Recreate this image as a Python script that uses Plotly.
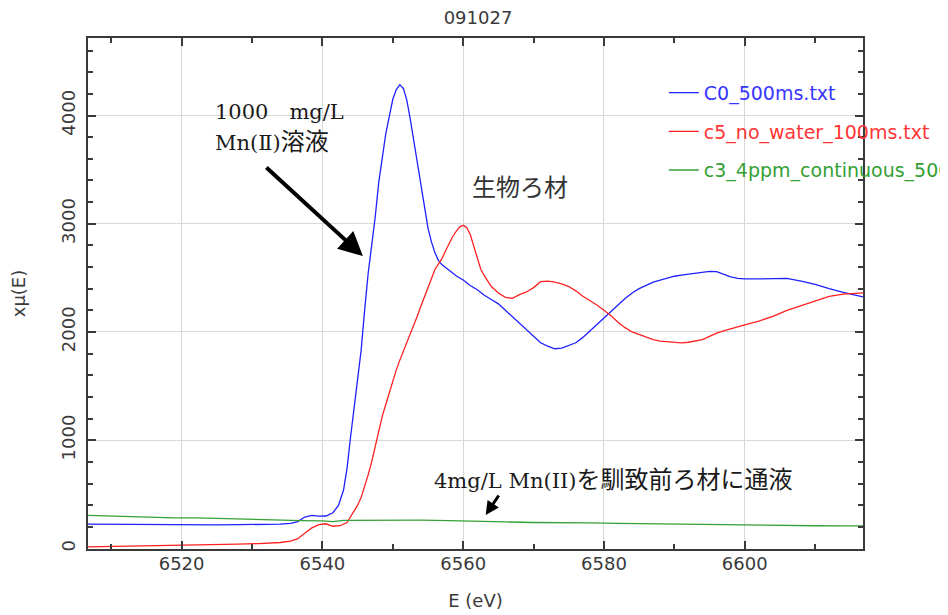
import plotly.graph_objects as go

# ---------------- data ----------------
E_c0 = [6506.7, 6510, 6513, 6516, 6519, 6522, 6525, 6528, 6531, 6534, 6535.5, 6536.5,
        6537.5, 6538.5, 6539.5, 6540.5, 6541.5, 6542.3, 6543, 6543.5, 6544, 6544.5,
        6545, 6545.5, 6546, 6546.5, 6547, 6547.5, 6548, 6548.5, 6549, 6549.5, 6550,
        6550.5, 6551, 6551.5, 6552, 6552.5, 6553, 6553.5, 6554, 6554.5, 6555, 6555.5,
        6556, 6556.5, 6557, 6558, 6559, 6560, 6561, 6562, 6563, 6564, 6565, 6566,
        6567, 6568, 6569, 6570, 6571, 6572, 6573, 6574, 6575, 6576, 6577, 6578, 6579,
        6580, 6581, 6582, 6583, 6584, 6585, 6586, 6587, 6588, 6589, 6590, 6591, 6592,
        6593, 6594, 6595, 6596, 6597, 6598, 6599, 6600, 6602, 6604, 6606, 6608, 6610,
        6612, 6614, 6616.8]
mu_c0 = [225, 224, 220, 218, 215, 216, 218, 220, 222, 224, 232, 248,
         290, 305, 298, 300, 330, 400, 540, 740, 1030, 1300,
         1560, 1830, 2200, 2540, 2800, 3060, 3380, 3620, 3830, 3990, 4150,
         4240, 4285, 4250, 4140, 3960, 3760, 3560, 3340, 3140, 2960, 2830,
         2730, 2660, 2620, 2570, 2520, 2480, 2430, 2390, 2340, 2300, 2260, 2200,
         2140, 2080, 2020, 1960, 1900, 1870, 1845, 1850, 1875, 1900, 1950, 2010, 2075,
         2130, 2190, 2250, 2310, 2360, 2400, 2430, 2460, 2480, 2500, 2515, 2525, 2535,
         2545, 2555, 2560, 2558, 2535, 2510, 2495, 2490, 2490, 2495, 2495, 2470, 2440,
         2400, 2365, 2325]

E_c5 = [6506.7, 6510, 6513, 6516, 6519, 6522, 6525, 6528, 6531, 6534, 6535.5, 6536.5,
        6537.5, 6538.5, 6539.5, 6540.5, 6541.5, 6542.5, 6543.5, 6544, 6544.5, 6545,
        6545.5, 6546, 6546.5, 6547, 6547.5, 6548, 6548.5, 6549, 6549.5, 6550, 6550.5,
        6551, 6551.5, 6552, 6552.5, 6553, 6553.5, 6554, 6554.5, 6555, 6555.5, 6556,
        6556.5, 6557, 6557.5, 6558, 6558.5, 6559, 6559.5, 6560, 6560.5, 6561, 6561.5,
        6562, 6562.5, 6563, 6563.5, 6564, 6565, 6566, 6567, 6568, 6569, 6570, 6571,
        6572, 6573, 6574, 6575, 6576, 6577, 6578, 6579, 6580, 6581, 6582, 6583, 6584,
        6585, 6586, 6587, 6588, 6589, 6590, 6591, 6592, 6593, 6594, 6595, 6596, 6597,
        6598, 6599, 6600, 6602, 6604, 6606, 6608, 6610, 6612, 6614, 6616.8]
mu_c5 = [15, 18, 22, 25, 28, 32, 35, 40, 45, 55, 68, 90,
         140, 190, 220, 228, 205, 210, 240, 290, 350, 400,
         470, 570, 680, 800, 950, 1100, 1220, 1330, 1440, 1550, 1650,
         1740, 1820, 1900, 1990, 2070, 2150, 2240, 2330, 2420, 2510, 2580,
         2630, 2680, 2750, 2820, 2880, 2930, 2970, 2985, 2965, 2900, 2790,
         2680, 2580, 2520, 2470, 2420, 2360, 2320, 2310, 2345, 2370, 2410, 2465,
         2470, 2460, 2445, 2420, 2380, 2330, 2290, 2250, 2200, 2150, 2090, 2040, 2000,
         1975, 1950, 1930, 1915, 1910, 1905, 1900, 1905, 1915, 1930, 1960, 1990, 2010,
         2030, 2050, 2065, 2100, 2145, 2200, 2245, 2290, 2330, 2350, 2362]

E_c3 = [6506.7, 6510, 6513, 6516, 6519, 6522, 6525, 6528, 6531, 6534, 6537, 6540,
        6541.5, 6543, 6546, 6550, 6554, 6558, 6562, 6566, 6570, 6574, 6578, 6582,
        6586, 6590, 6594, 6598, 6602, 6606, 6610, 6614, 6616.8]
mu_c3 = [305, 298, 292, 288, 282, 282, 276, 272, 268, 264, 258, 255,
         248, 260, 262, 265, 262, 258, 255, 245, 240, 240, 236, 232,
         228, 226, 222, 220, 214, 212, 210, 208, 208]

series_names = ["C0_500ms.txt", "c5_no_water_100ms.txt", "c3_4ppm_continuous_500ms.txt"]
line_colors = ["#2020ff", "#ff2020", "#35a035"]
text_colors = ["#3535ff", "#ff3535", "#35a035"]

title_text = "091027"
x_title = "E (eV)"
y_title = "x\u03bc(E)"
x_range = [6506.7, 6616.8]
y_range = [-5, 4716]

ann1_line1 = "1000\u3000mg/L"
ann1_line2 = "Mn(\u2161)<span style='font-size:24px'>溶液</span>"
ann2_text = "生物ろ材"
ann3_text = "4mg/L Mn(II)<span style='font-size:24px'>を馴致前ろ材に通液</span>"

# ---------------- figure ----------------
fig = go.Figure()
for xs, ys, nm, lc, tc, grp in zip([E_c0, E_c5, E_c3], [mu_c0, mu_c5, mu_c3],
                                   series_names, line_colors, text_colors, ["a", "b", "c"]):
    fig.add_trace(go.Scatter(
        x=xs, y=ys, mode="lines", line=dict(color=lc, width=1.3),
        name=f"<span style='color:{tc}'>{nm}</span>", legendgroup=grp))

tick_font = dict(family="DejaVu Sans", size=18, color="#3a3a3a")
axis_common = dict(
    showline=True, linecolor="#3a3a3a", linewidth=2, mirror="allticks",
    ticks="inside", ticklen=8, tickwidth=2, tickcolor="#3a3a3a",
    showgrid=True, gridcolor="#d8d8d8", gridwidth=1.3, zeroline=False,
    tickfont=tick_font,
)

fig.update_xaxes(range=x_range, dtick=20, tick0=6520, ticklabelstandoff=-3,
                 minor=dict(dtick=10, ticks="inside", ticklen=5, tickcolor="#3a3a3a", showgrid=False),
                 title=dict(text=x_title, font=dict(family="DejaVu Sans", size=18, color="#3a3a3a"), standoff=22),
                 **axis_common)
fig.update_yaxes(range=y_range, dtick=1000, tick0=0, tickangle=-90,
                 ticklabelstandoff=4,
                 minor=dict(dtick=200, ticks="inside", ticklen=5, tickcolor="#3a3a3a", showgrid=False),
                 title=dict(text=y_title, font=dict(family="DejaVu Sans", size=18, color="#3a3a3a"), standoff=29),
                 **axis_common)

serif = "DejaVu Serif, Noto Sans CJK JP"
annots = [
    dict(x=6524.4, y=4030, text=ann1_line1, xanchor="left", yanchor="middle", showarrow=False,
         font=dict(family=serif, size=21, color="#1a1a1a")),
    dict(x=6524.4, y=3753, text=ann1_line2, xanchor="left", yanchor="middle", showarrow=False,
         font=dict(family=serif, size=21, color="#1a1a1a")),
    dict(x=6560.9, y=3329, text=ann2_text, xanchor="left", yanchor="middle", showarrow=False,
         font=dict(family=serif, size=24, color="#333333")),
    dict(x=6555.5, y=632, text=ann3_text, xanchor="left", yanchor="middle", showarrow=False,
         font=dict(family=serif, size=21, color="#1a1a1a")),
    dict(x=6545.75, y=2701, ax=-98, ay=-90, text="", showarrow=True, arrowhead=2,
         arrowwidth=4, arrowsize=1.2, arrowcolor="#000000"),
    dict(x=6563.2, y=309, ax=14, ay=-21, text="", showarrow=True, arrowhead=2,
         arrowwidth=3, arrowsize=0.9, arrowcolor="#000000"),
]

fig.update_layout(
    width=940, height=607,
    margin=dict(l=80, r=85, t=30, b=66, autoexpand=False),
    paper_bgcolor="white", plot_bgcolor="white",
    title=dict(text=title_text, x=0.5, xanchor="center", y=0.9835, yanchor="middle",
               font=dict(family="DejaVu Sans", size=18, color="#3a3a3a")),
    showlegend=True,
    legend=dict(x=0.743, y=0.93, xanchor="left", yanchor="top",
                bgcolor="rgba(0,0,0,0)", borderwidth=0, tracegroupgap=11,
                font=dict(family="DejaVu Sans", size=19, color="#3a3a3a")),
    annotations=annots,
)

fig.write_html("out.html")
